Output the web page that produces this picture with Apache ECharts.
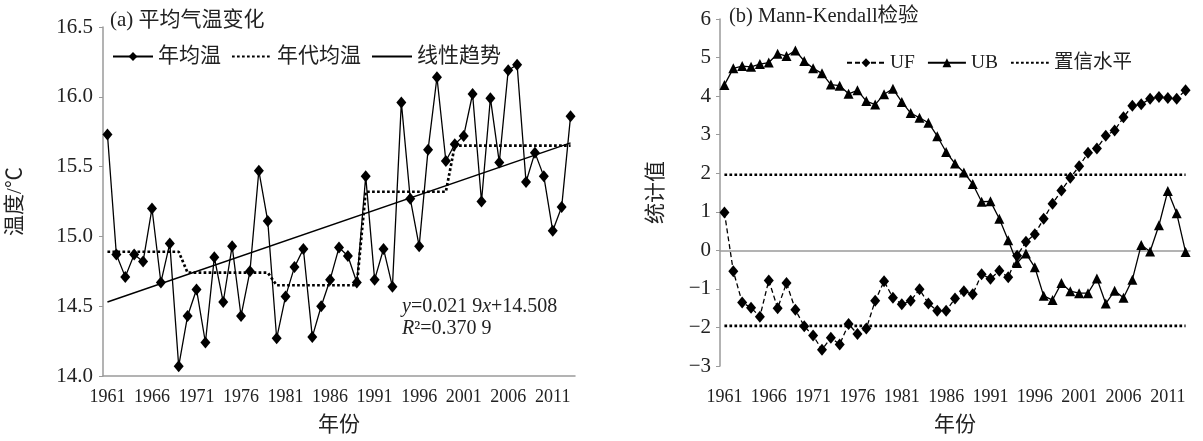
<!DOCTYPE html>
<html>
<head>
<meta charset="utf-8">
<title>平均气温变化与Mann-Kendall检验</title>
<script src="https://cdn.jsdelivr.net/npm/echarts@6/dist/echarts.min.js"></script>
<style>
  html, body { margin: 0; padding: 0; background: #fff; }
  #main { width: 1203px; height: 441px; }
</style>
</head>
<body>
<div id="main"></div>
<script>
// 年份 1961-2013
var startYear = 1961;
var endYear = 2013;
var years = [];
for (var y = startYear; y <= endYear; y++) years.push(String(y));

// (a) 年均温 (℃)
var annualTemp = [
  15.73, 14.87, 14.71, 14.87, 14.82, 15.20, 14.67, 14.95, 14.07, 14.43,
  14.62, 14.24, 14.85, 14.53, 14.93, 14.43, 14.75, 15.47, 15.11, 14.27,
  14.57, 14.78, 14.91, 14.28, 14.50, 14.69, 14.92, 14.86, 14.67, 15.43,
  14.69, 14.91, 14.64, 15.96, 15.27, 14.93, 15.62, 16.14, 15.54, 15.66,
  15.72, 16.02, 15.25, 15.99, 15.53, 16.19, 16.23, 15.39, 15.60, 15.43,
  15.04, 15.21, 15.86
];

// 年代均温：各年代起始年份与均值
var decadeStart = [1961, 1970, 1980, 1990, 2000];
var decadeMean = [14.89, 14.74, 14.65, 15.32, 15.65];

// 线性趋势两端（1961 与 2013）
var trendEnds = [14.53, 15.67];

// (b) Mann-Kendall 统计量
var ufValues = [
  0.98, -0.54, -1.35, -1.49, -1.72, -0.78, -1.50, -0.85, -1.54, -1.97,
  -2.21, -2.58, -2.27, -2.44, -1.91, -2.17, -2.03, -1.31, -0.80, -1.23,
  -1.40, -1.31, -1.01, -1.38, -1.57, -1.57, -1.25, -1.06, -1.14, -0.62,
  -0.74, -0.53, -0.70, -0.14, 0.22, 0.42, 0.82, 1.21, 1.55, 1.88,
  2.18, 2.53, 2.64, 2.97, 3.11, 3.45, 3.75, 3.79, 3.93, 3.98,
  3.95, 3.93, 4.15
];
var ubValues = [
  4.29, 4.72, 4.78, 4.76, 4.83, 4.87, 5.10, 5.04, 5.18, 4.91,
  4.72, 4.59, 4.30, 4.27, 4.06, 4.15, 3.87, 3.78, 4.05, 4.19,
  3.85, 3.56, 3.44, 3.31, 2.96, 2.55, 2.25, 2.02, 1.72, 1.26,
  1.27, 0.82, 0.26, -0.33, -0.08, -0.44, -1.18, -1.29, -0.85, -1.06,
  -1.11, -1.11, -0.73, -1.38, -1.05, -1.23, -0.76, 0.14, -0.03, 0.65,
  1.54, 0.96, -0.04
];
// 置信水平 (α=0.05)
var confLevel = 1.96;

// ---------- 由上面的数组生成序列 ----------
var decadeLine = years.map(function (yr) {
  var v = null;
  for (var i = 0; i < decadeStart.length; i++) {
    if (+yr >= decadeStart[i]) v = decadeMean[i];
  }
  return v;
});
var trendLine = years.map(function (yr, i) {
  if (i === 0) return trendEnds[0];
  if (i === years.length - 1) return trendEnds[1];
  return null;
});
var confUpper = years.map(function () { return confLevel; });
var confLower = years.map(function () { return -confLevel; });

var FONT = "'Liberation Serif', 'Noto Sans CJK SC', serif";
var TEXT = '#222';
var AXIS = '#9a9a9a';
// 点线样式
var DOTTED = { color: '#000', width: 2.7, type: [2.7, 2.3] };

var chart = echarts.init(document.getElementById('main'));

var option = {
  animation: false,
  textStyle: { fontFamily: FONT, color: TEXT },

  // 小标题
  title: [
    { text: '(a) 平均气温变化', left: 110, top: 10, padding: 0,
      textStyle: { fontFamily: FONT, fontSize: 21, fontWeight: 'normal', color: TEXT } },
    { text: '(b) Mann-Kendall检验', left: 729, top: 6, padding: 0,
      textStyle: { fontFamily: FONT, fontSize: 20.5, fontWeight: 'normal', color: TEXT } }
  ],

  // 图例（无标记的线条隐藏图例中的点）
  legend: [
    { data: ['年均温',
             { name: '年代均温', itemStyle: { opacity: 0 } },
             { name: '线性趋势', itemStyle: { opacity: 0 } }],
      left: 112, top: 46, padding: 0,
      itemWidth: 40, itemHeight: 11, itemGap: 10,
      textStyle: { fontFamily: FONT, fontSize: 21, color: TEXT } },
    { data: ['UF', 'UB', { name: '置信水平', itemStyle: { opacity: 0 } }],
      left: 846, top: 53, padding: 0,
      itemWidth: 38, itemHeight: 11, itemGap: 12,
      textStyle: { fontFamily: FONT, fontSize: 19.5, color: TEXT } }
  ],

  grid: [
    { left: 103, top: 27, width: 472, height: 353 },
    { left: 720, top: 19, width: 470, height: 353 }
  ],

  xAxis: [
    { gridIndex: 0, type: 'category', data: years,
      axisLine: { lineStyle: { color: AXIS, width: 1.5 } },
      axisTick: { inside: true, length: 6, interval: 0, lineStyle: { color: AXIS } },
      axisLabel: { interval: 4, fontSize: 18, margin: 12, color: TEXT, fontFamily: FONT },
      name: '年份', nameLocation: 'middle', nameGap: 39,
      nameTextStyle: { fontSize: 21, color: TEXT, fontFamily: FONT } },
    // 右图底部年份标签
    { gridIndex: 1, type: 'category', data: years, position: 'bottom',
      axisLine: { show: false, onZero: false }, axisTick: { show: false },
      axisLabel: { interval: 4, fontSize: 18, margin: 22, color: TEXT, fontFamily: FONT },
      name: '年份', nameLocation: 'middle', nameGap: 49,
      nameTextStyle: { fontSize: 21, color: TEXT, fontFamily: FONT } },
    // 右图 0 值轴线
    { gridIndex: 1, type: 'category', data: years, position: 'bottom',
      axisLine: { onZero: true, lineStyle: { color: AXIS, width: 1.5 } },
      axisTick: { inside: true, length: 6, interval: 0, lineStyle: { color: AXIS } },
      axisLabel: { show: false } }
  ],

  yAxis: [
    { gridIndex: 0, type: 'value', min: 14, max: 16.5, interval: 0.5,
      axisLine: { show: true, lineStyle: { color: AXIS, width: 1.5 } },
      axisTick: { show: true, length: 4, lineStyle: { color: AXIS } },
      splitLine: { show: false },
      axisLabel: { fontSize: 21, margin: 10, color: TEXT, fontFamily: FONT,
        formatter: function (v) { return v.toFixed(1); } },
      name: '温度/℃', nameLocation: 'middle', nameGap: 77, nameRotate: 90,
      nameTextStyle: { fontSize: 21, color: TEXT, fontFamily: FONT } },
    { gridIndex: 1, type: 'value', min: -3, max: 6, interval: 1,
      axisLine: { show: true, lineStyle: { color: AXIS, width: 1.5 } },
      axisTick: { show: true, length: 4, lineStyle: { color: AXIS } },
      splitLine: { show: false },
      axisLabel: { fontSize: 21, margin: 9, color: TEXT, fontFamily: FONT,
        formatter: function (v) { return String(v).replace('-', '\u2212'); } },
      name: '统计值', nameLocation: 'middle', nameGap: 53, nameRotate: 90,
      nameTextStyle: { fontSize: 21, color: TEXT, fontFamily: FONT } }
  ],

  series: [
    { name: '年代均温', type: 'line', xAxisIndex: 0, yAxisIndex: 0, data: decadeLine,
      symbol: 'none', itemStyle: { color: '#000' }, lineStyle: DOTTED, z: 2 },
    { name: '线性趋势', type: 'line', xAxisIndex: 0, yAxisIndex: 0, data: trendLine,
      connectNulls: true, symbol: 'none', itemStyle: { color: '#000' },
      lineStyle: { color: '#000', width: 1.5 }, z: 2 },
    { name: '年均温', type: 'line', xAxisIndex: 0, yAxisIndex: 0, data: annualTemp,
      symbol: 'diamond', symbolSize: [10, 12], showAllSymbol: true,
      itemStyle: { color: '#000' },
      lineStyle: { color: '#000', width: 1.3 }, z: 3 },

    { name: 'UF', type: 'line', xAxisIndex: 1, yAxisIndex: 1, data: ufValues,
      symbol: 'diamond', symbolSize: [10, 12], showAllSymbol: true,
      itemStyle: { color: '#000' },
      lineStyle: { color: '#000', width: 1.3, type: [5, 3] }, z: 3 },
    { name: 'UB', type: 'line', xAxisIndex: 1, yAxisIndex: 1, data: ubValues,
      symbol: 'triangle', symbolSize: [10, 10], showAllSymbol: true,
      itemStyle: { color: '#000' },
      lineStyle: { color: '#000', width: 1.3 }, z: 3 },
    { name: '置信水平', type: 'line', xAxisIndex: 1, yAxisIndex: 1, data: confUpper,
      symbol: 'none', itemStyle: { color: '#000' }, lineStyle: DOTTED, z: 2 },
    { name: '置信水平', type: 'line', xAxisIndex: 1, yAxisIndex: 1, data: confLower,
      symbol: 'none', itemStyle: { color: '#000' }, lineStyle: DOTTED, z: 2 }
  ],

  // 回归方程
  graphic: [
    { type: 'text', left: 402, top: 297,
      style: {
        text: '{i|y}{n|=0.021 9}{i|x}{n|+14.508}\n{i|R}{n|²=0.370 9}',
        fill: TEXT,
        rich: {
          i: { fontStyle: 'italic', fontSize: 20, fontFamily: "'Liberation Serif'", fill: TEXT, lineHeight: 22 },
          n: { fontSize: 20, fontFamily: "'Liberation Serif'", fill: TEXT, lineHeight: 22 }
        }
      } }
  ]
};

chart.setOption(option);
</script>
</body>
</html>
